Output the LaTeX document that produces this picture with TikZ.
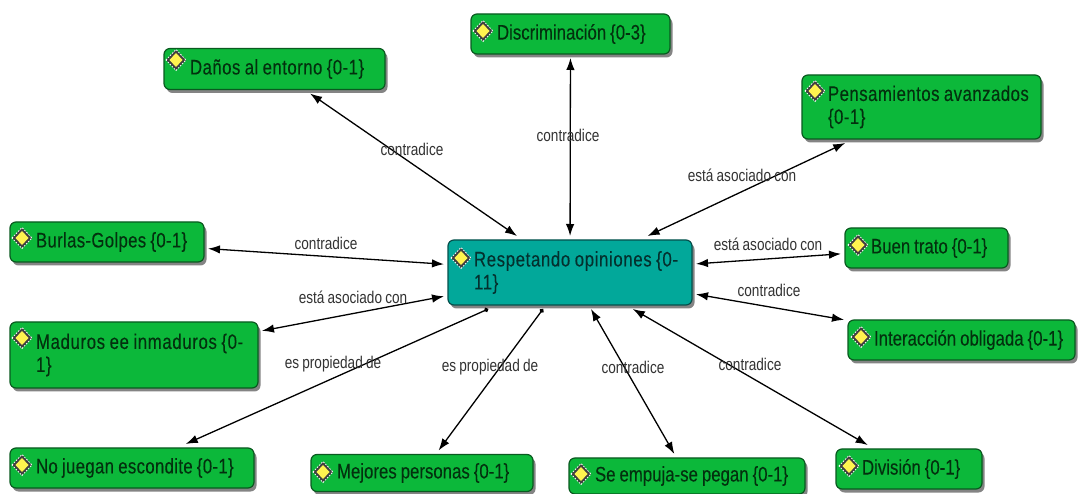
\documentclass[tikz,border=0pt]{standalone}
\usepackage{fontspec}
\setmainfont[FakeStretch=0.80,WordSpace=0.85]{Liberation Sans}
\newfontfamily\cardfont[FakeStretch=0.80,WordSpace=0.85,FakeBold=0.15]{Liberation Sans}
\usetikzlibrary{shadows,arrows.meta}
\definecolor{boxgreen}{HTML}{0CB83A}
\definecolor{boxteal}{HTML}{02A89A}
\definecolor{boxedge}{HTML}{0A5A20}
\definecolor{tealedge}{HTML}{06504C}
\definecolor{txtgreen}{HTML}{03300E}
\definecolor{lbl}{HTML}{333333}
\definecolor{iconyellow}{HTML}{FFF44F}
\tikzset{
  x=1pt,y=-1pt,
  card/.style={rectangle,rounded corners=6pt,draw=boxedge,line width=1.2pt,fill=boxgreen,
    inner xsep=0pt,inner ysep=0pt,outer sep=4pt,align=flush left,text=txtgreen,
    font=\cardfont\fontsize{21}{23}\selectfont,
    drop shadow={shadow xshift=2.5pt,shadow yshift=-3.5pt,fill=black!80,opacity=0.6}},
  hub/.style={card,draw=tealedge,fill=boxteal,text=tealedge!60!black},
  link/.style={line width=1.3pt,black,{Latex[length=12pt,width=8.5pt]}-{Latex[length=12pt,width=8.5pt]}},
  linkdot/.style={line width=1.3pt,black,{Circle[length=4.5pt,width=4.5pt]}-{Latex[length=12pt,width=8.5pt]}},
  rel/.style={text=lbl,inner sep=0pt,font=\fontsize{17}{19}\selectfont},
}
\newcommand{\gap}{\hspace*{26pt}}
\newcommand{\spread}[1]{\addfontfeature{LetterSpace=#1}}
\newcommand{\badge}[2]{%
  \fill[black!75] (#1-1,#2) -- (#1+9,#2-10.5) -- (#1+19,#2) -- (#1+9,#2+10.5) -- cycle;
  \draw[white,line width=0.8pt,dash pattern=on 1.5pt off 1.5pt] (#1-1,#2) -- (#1+9,#2-10.5) -- (#1+19,#2) -- (#1+9,#2+10.5) -- cycle;
  \fill[iconyellow] (#1+2.5,#2) -- (#1+9,#2-7) -- (#1+15.5,#2) -- (#1+9,#2+7) -- cycle;
}
\begin{document}
\begin{tikzpicture}
\useasboundingbox[fill=white] (0,0) rectangle (1088,494);
% centre
\node[hub,text width=244pt,minimum height=65pt] (resp) at (570,272.5) {\spread{3}\gap Respetando opiniones \{0-\\\gap 11\}};
% outer boxes
\node[card,text width=221pt,minimum height=41pt] (danos) at (274.5,69) {\spread{2.2}\gap Daños al entorno \{0-1\}};
\node[card,text width=199pt,minimum height=40pt] (discr) at (570.5,34) {\gap Discriminación \{0-3\}};
\node[card,text width=239pt,minimum height=64pt] (pens) at (921.5,107) {\spread{2.2}\gap Pensamientos avanzados\\\gap \{0-1\}};
\node[card,text width=194pt,minimum height=40pt] (burlas) at (107,242) {\spread{1.5}\gap Burlas-Golpes \{0-1\}};
\node[card,text width=163pt,minimum height=40pt] (buen) at (926.5,248) {\gap Buen trato \{0-1\}};
\node[card,text width=248pt,minimum height=66pt] (madur) at (134,355) {\spread{3}\gap Maduros ee inmaduros \{0-\\\gap 1\}};
\node[card,text width=227pt,minimum height=40pt] (inter) at (961.5,340) {\gap Interacción obligada \{0-1\}};
\node[card,text width=244pt,minimum height=40pt] (nojue) at (132,468) {\spread{1.5}\gap No juegan escondite \{0-1\}};
\node[card,text width=222pt,minimum height=37pt] (mejor) at (422,473) {\gap Mejores personas \{0-1\}};
\node[card,text width=236pt,minimum height=36pt] (seemp) at (687,476) {\gap Se empuja-se pegan \{0-1\}};
\node[card,text width=146pt,minimum height=40pt] (divis) at (909,469) {\gap División \{0-1\}};
% badges
\badge{452}{258}
\badge{167}{60}
\badge{474}{31}
\badge{806}{91}
\badge{13}{238}
\badge{849}{245}
\badge{13}{338}
\badge{852}{337}
\badge{13}{465}
\badge{314}{472}
\badge{572}{474}
\badge{840}{466}
% connectors
\draw[link] (resp) -- (danos);
\draw[link] (resp) -- (discr);
\draw[link] (resp) -- (pens);
\draw[link] (resp) -- (burlas);
\draw[link] (resp) -- (buen);
\draw[link] (resp) -- (madur);
\draw[link] (resp) -- (inter);
\draw[linkdot] (resp) -- (nojue);
\draw[linkdot] (resp) -- (mejor);
\draw[link] (resp) -- (seemp);
\draw[link] (resp) -- (divis);
% labels
\node[rel] (l1) at (412,149) {contradice};
\node[rel] (l2) at (568,135) {contradice};
\node[rel] (l3) at (742,175) {está asociado con};
\node[rel] (l4) at (326,243) {contradice};
\node[rel] (l5) at (768,244) {está asociado con};
\node[rel] (l6) at (353,297) {está asociado con};
\node[rel] (l7) at (769,290) {contradice};
\node[rel] (l8) at (333,364) {es propiedad de};
\node[rel] (l9) at (490,367) {es propiedad de};
\node[rel] (l10) at (633,367) {contradice};
\node[rel] (l11) at (750,364) {contradice};
\end{tikzpicture}
\end{document}
